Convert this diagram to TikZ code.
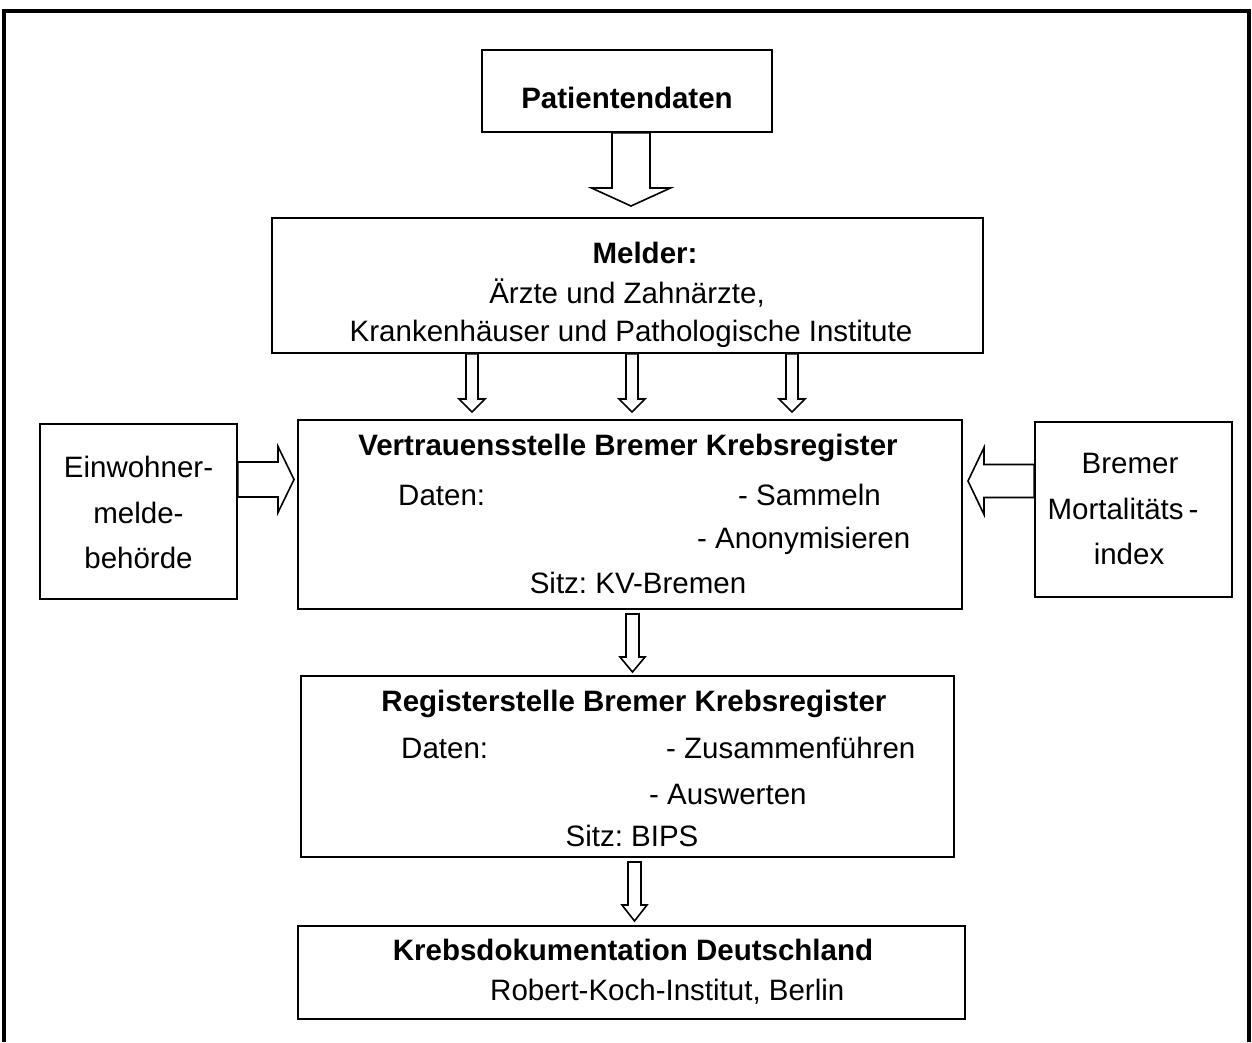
\documentclass[tikz,border=0pt]{standalone}
\usepackage{fontspec}
\setmainfont{Liberation Sans}
\usetikzlibrary{calc}
\frenchspacing
\newcommand\blockdown[5]{\draw[barrow] let \p1=#1, \p2=#2 in
 (\x2-#3pt,\y1) -- (\x2-#3pt,\y2+#5pt) -- (\x2-#4pt,\y2+#5pt) -- (\x2,\y2) -- (\x2+#4pt,\y2+#5pt) -- (\x2+#3pt,\y2+#5pt) -- (\x2+#3pt,\y1) -- cycle;}
\newcommand\blockright[5]{\draw[barrow] let \p1=#1, \p2=#2 in
 (\x1,\y2+#3pt) -- (\x2-#5pt,\y2+#3pt) -- (\x2-#5pt,\y2+#4pt) -- (\x2,\y2) -- (\x2-#5pt,\y2-#4pt) -- (\x2-#5pt,\y2-#3pt) -- (\x1,\y2-#3pt) -- cycle;}
\newcommand\blockleft[5]{\draw[barrow] let \p1=#1, \p2=#2 in
 (\x1,\y2+#3pt) -- (\x2+#5pt,\y2+#3pt) -- (\x2+#5pt,\y2+#4pt) -- (\x2,\y2) -- (\x2+#5pt,\y2-#4pt) -- (\x2+#5pt,\y2-#3pt) -- (\x1,\y2-#3pt) -- cycle;}
\begin{document}
\begin{tikzpicture}[x=1pt,y=-1pt,
  box/.style={draw, line width=1.8pt, fill=white, inner sep=0pt},
  txt/.style={anchor=base, inner sep=0pt, font=\fontsize{29.5}{35}\selectfont},
  btxt/.style={txt, font=\fontsize{29.5}{35}\selectfont\bfseries},
  barrow/.style={draw, fill=white, line width=1.6pt, line join=miter}]
\useasboundingbox (0,0) rectangle (1252,1042);
% outer frame (open at bottom)
\draw[line width=3.5pt] (4,1042) -- (4,11) -- (1249,11) -- (1249,1042);
% boxes
\node[box, minimum width=290, minimum height=82] (pat) at (627,91) {};
\node[box, minimum width=711, minimum height=135] (mel) at (627.5,285.5) {};
\node[box, minimum width=664, minimum height=189] (vert) at (630,514.5) {};
\node[box, minimum width=197, minimum height=175] (einw) at (138.5,511.5) {};
\node[box, minimum width=197, minimum height=175] (brem) at (1133.5,509.5) {};
\node[box, minimum width=653, minimum height=181] (reg) at (627.5,766.5) {};
\node[box, minimum width=667, minimum height=93] (kreb) at (631.5,972.5) {};
% texts
\node[btxt] (t1) at (627,108) {Patientendaten};
\node[btxt] (t2) at (645,263) {Melder:};
\node[txt] (t3) at (627,303) {Ärzte und Zahnärzte,};
\node[txt] (t4) at (631,341) {Krankenhäuser und Pathologische Institute};
\node[btxt] (t5) at (628,455) {Vertrauensstelle Bremer Krebsregister};
\node[txt, anchor=base west] (t6) at (398,505) {Daten:};
\node[txt, anchor=base west] (t7) at (738,505) {- Sammeln};
\node[txt, anchor=base west] (t8) at (697,548) {- Anonymisieren};
\node[txt] (t9) at (638,593) {Sitz: KV-Bremen};
\node[txt] (e1) at (138.5,477) {Einwohner-};
\node[txt] (e2) at (138.5,523) {melde-};
\node[txt] (e3) at (138.5,568) {behörde};
\node[txt] (b1) at (1130,473) {Bremer};
\node[txt] (b2) at (1123,519) {Mortalitäts\hspace{5pt}-};
\node[txt] (b3) at (1129,564) {index};
\node[btxt] (r1) at (634,711) {Registerstelle Bremer Krebsregister};
\node[txt, anchor=base west] (r2) at (401,758) {Daten:};
\node[txt, anchor=base west] (r3) at (666,758) {- Zusammenführen};
\node[txt, anchor=base west] (r4) at (649,804) {- Auswerten};
\node[txt] (r5) at (632,846) {Sitz: BIPS};
\node[btxt] (k1) at (633,960) {Krebsdokumentation Deutschland};
\node[txt, anchor=base west] (k2) at (490,1000) {Robert-Koch-Institut, Berlin};
% arrow tips / starts
\coordinate (a1) at (631,206);
\coordinate (a2) at (472,412);
\coordinate (a3) at (632,412);
\coordinate (a4) at (792,412);
\coordinate (a5) at (294,479.5);
\coordinate (a6) at (968,481);
\coordinate (a7s) at (632.5,614);
\coordinate (a7) at (632.5,672);
\coordinate (a8s) at (634.5,862);
\coordinate (a8) at (634.5,921);
% block arrows
\blockdown{(pat.south)}{(a1)}{19}{39.5}{18}
\blockdown{(mel.south)}{(a2)}{6}{13}{13}
\blockdown{(mel.south)}{(a3)}{6}{13}{13}
\blockdown{(mel.south)}{(a4)}{6}{13}{13}
\blockright{(einw.east)}{(a5)}{17.5}{33}{16}
\blockleft{(brem.west)}{(a6)}{16.5}{33.5}{16}
\blockdown{(a7s)}{(a7)}{6.5}{12.5}{15}
\blockdown{(a8s)}{(a8)}{6.5}{12.5}{16}
\end{tikzpicture}
\end{document}
